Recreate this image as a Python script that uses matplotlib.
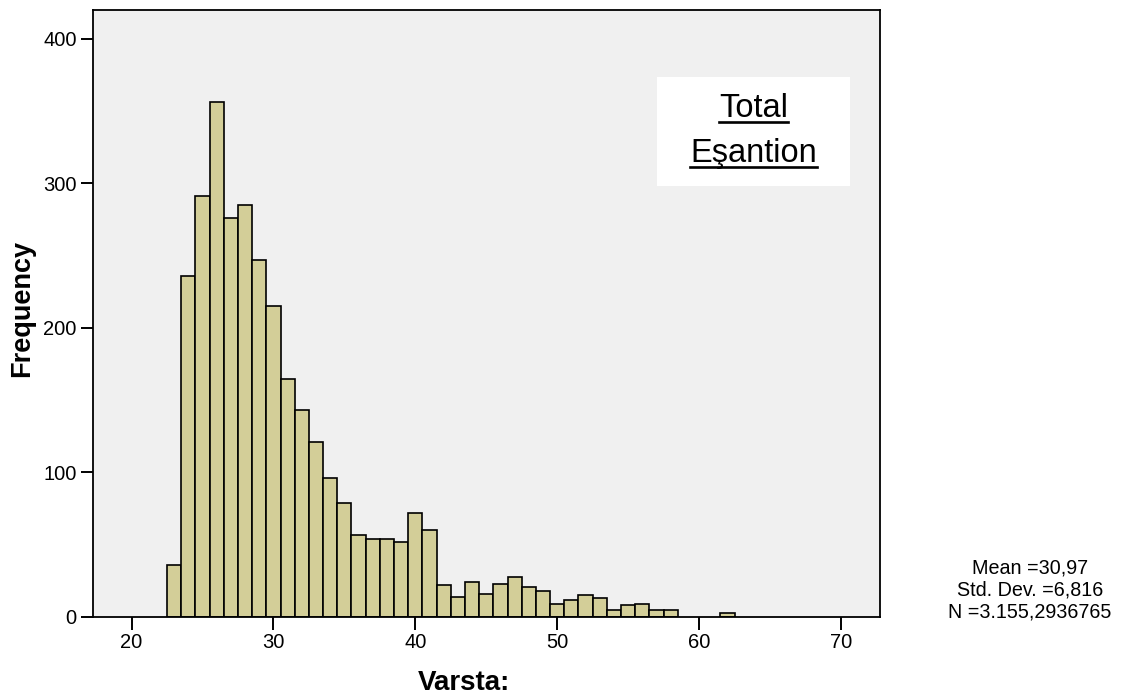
"""Varsta histogram (SPSS style) with Total Esantion box and summary stats."""

import matplotlib
matplotlib.use("Agg")
import matplotlib.pyplot as plt
from matplotlib.lines import Line2D
from matplotlib.patches import Rectangle
import numpy as np

# ===================== data =====================
# bin centres (age, 1-year bins) and frequencies
ages = list(range(23, 63))
freqs = [36, 236, 291, 356, 276, 285, 247, 215, 165, 143,
         121, 96, 79, 57, 54, 54, 52, 72, 60, 22,
         14, 24, 16, 23, 28, 21, 18, 9, 12, 15,
         13, 5, 8, 9, 5, 5, 0, 0, 0, 3]

x_ticks = [20, 30, 40, 50, 60, 70]
y_ticks = [0, 100, 200, 300, 400]

stats_lines = ["Mean =30,97", "Std. Dev. =6,816", "N =3.155,2936765"]
box_lines = ["Total", "Eşantion"]

BAR_COLOR = "#D3CE98"
BG_COLOR = "#F0F0F0"

plt.rcParams["font.family"] = ["Liberation Sans", "DejaVu Sans"]

W, H = 1122, 697
fig = plt.figure(figsize=(W / 100, H / 100), dpi=100)
# axes frame in pixels: left 92.5, right 880, top 10, bottom 617
ax = fig.add_axes([92.5 / W, (H - 617) / H, 787.5 / W, 607 / H])
ax.set_facecolor(BG_COLOR)

ages_arr = np.array(ages)
freqs_arr = np.array(freqs)
keep = freqs_arr > 0
ax.bar(ages_arr[keep], freqs_arr[keep], width=1.0, color=BAR_COLOR,
       edgecolor="black", linewidth=1.2, zorder=2)

ax.set_xlim(17.25, 72.75)
ax.set_ylim(0, 420)
ax.set_xticks(x_ticks)
ax.set_yticks(y_ticks)
ax.tick_params(axis="both", direction="out", length=9, width=1.4,
               labelsize=14.5, pad=2.5, colors="black")
for sp in ax.spines.values():
    sp.set_linewidth(1.3)
    sp.set_color("black")
    sp.set_zorder(3)

# axis titles
fig.text(464 / W, 1 - 690 / H, "Varsta:", ha="center", va="baseline",
         fontsize=20, fontweight="bold")
fig.text(21.7 / W, 1 - 308 / H, "Frequency", ha="center", va="center",
         rotation=90, fontsize=19.5, fontweight="bold")

# white label box inside the plot
ax.add_patch(Rectangle((0.7168, 0.7101), 0.2451, 0.1795, transform=ax.transAxes,
                       facecolor="white", edgecolor="none", zorder=4))
box_texts = []
for txt, yb in zip(box_lines, [0.8242, 0.7501]):
    t = ax.text(0.8394, yb, txt, transform=ax.transAxes, ha="center",
                va="baseline", fontsize=23.5, zorder=5)
    box_texts.append((t, yb))

# summary statistics at right
for txt, yb in zip(stats_lines, [573, 596, 617]):
    fig.text(1030 / W, 1 - yb / H, txt, ha="center", va="baseline", fontsize=14.2)

# underline the box text
fig.canvas.draw()
renderer = fig.canvas.get_renderer()
for t, yb in box_texts:
    bb = t.get_window_extent(renderer).transformed(ax.transAxes.inverted())
    uy = yb - 5 / 607
    ax.add_line(Line2D([bb.x0, bb.x1], [uy, uy], transform=ax.transAxes,
                       color="black", linewidth=1.9, zorder=5))

fig.savefig("out.png", dpi=100, facecolor="white")
